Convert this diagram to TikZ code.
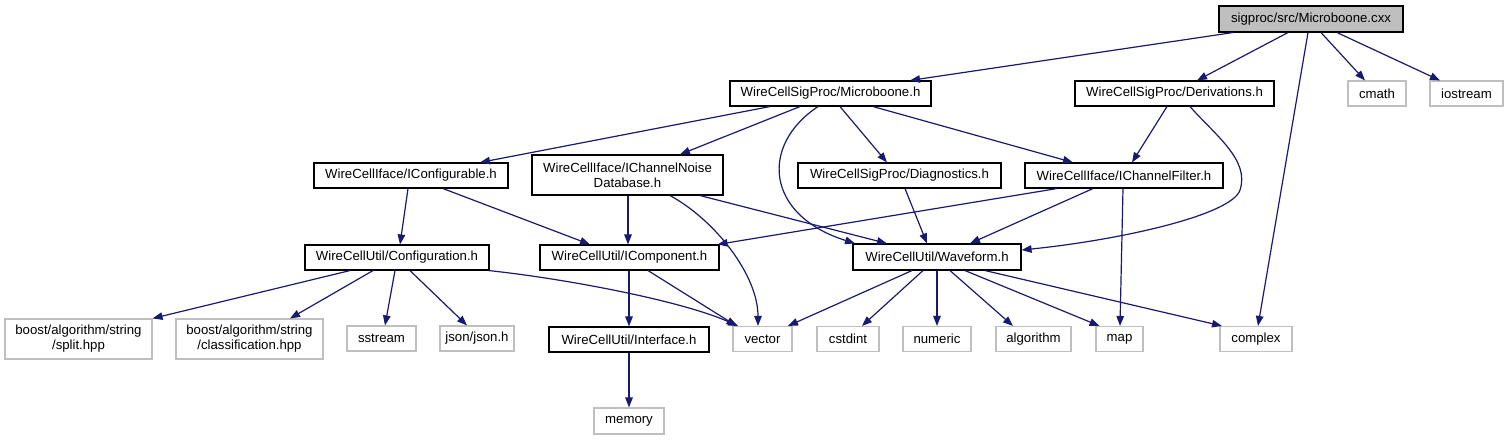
\documentclass[tikz,border=0pt]{standalone}
\usepackage{fontspec}
\setmainfont{Liberation Sans}
\usetikzlibrary{arrows.meta}
\definecolor{edgeblue}{HTML}{191970}
\definecolor{extgray}{HTML}{BFBFBF}
\begin{document}
\begin{tikzpicture}[x=1pt,y=-1pt,
  box/.style={draw=black,line width=1.1pt,rectangle,inner sep=0pt,align=center,
    font=\fontsize{13.2}{15}\selectfont,fill=white},
  ext/.style={box,draw=extgray},
  cur/.style={box,fill=extgray},
  dep/.style={draw=edgeblue,line width=1.2pt,
    -{Triangle[length=10pt,width=7.5pt,fill=edgeblue]}}
]
\useasboundingbox (0,0) rectangle (1508,440);
% nodes
\node[cur,minimum width=184pt,minimum height=26pt] (cxx) at (1311,19) {sigproc/src/Microboone.cxx};
\node[box,minimum width=201pt,minimum height=25pt] (mbh) at (830.5,93.5) {WireCellSigProc/Microboone.h};
\node[box,minimum width=199pt,minimum height=25pt] (der) at (1174.5,93.5) {WireCellSigProc/Derivations.h};
\node[ext,minimum width=58pt,minimum height=25pt] (cmath) at (1377,93.5) {cmath};
\node[ext,minimum width=73pt,minimum height=25pt] (iostream) at (1466.5,93.5) {iostream};
\node[box,minimum width=194pt,minimum height=25pt] (icfg) at (411,175.5) {WireCellIface/IConfigurable.h};
\node[box,minimum width=191pt,minimum height=40pt] (icnd) at (627.5,175) {WireCellIface/IChannelNoise\\Database.h};
\node[box,minimum width=203pt,minimum height=25pt] (diag) at (899.5,175.5) {WireCellSigProc/Diagnostics.h};
\node[box,minimum width=198pt,minimum height=25pt] (icf) at (1124,175.5) {WireCellIface/IChannelFilter.h};
\node[box,minimum width=184pt,minimum height=25pt] (conf) at (397,257.5) {WireCellUtil/Configuration.h};
\node[box,minimum width=179pt,minimum height=25pt] (icomp) at (629.5,257.5) {WireCellUtil/IComponent.h};
\node[box,minimum width=168pt,minimum height=26pt] (wave) at (937,257) {WireCellUtil/Waveform.h};
\node[ext,minimum width=147pt,minimum height=40pt] (split) at (78.5,339) {boost/algorithm/string\\/split.hpp};
\node[ext,minimum width=147pt,minimum height=40pt] (classif) at (249.5,339) {boost/algorithm/string\\/classification.hpp};
\node[ext,minimum width=69pt,minimum height=25pt] (sstream) at (381.5,338.5) {sstream};
\node[ext,minimum width=74pt,minimum height=25pt] (json) at (477,338.5) {json/json.h};
\node[box,minimum width=160pt,minimum height=25pt] (iface) at (629,339.5) {WireCellUtil/Interface.h};
\node[ext,minimum width=59pt,minimum height=25pt] (vector) at (762.5,339) {vector};
\node[ext,minimum width=62pt,minimum height=25pt] (cstdint) at (848,339) {cstdint};
\node[ext,minimum width=68pt,minimum height=25pt] (numeric) at (937,339) {numeric};
\node[ext,minimum width=75pt,minimum height=25pt] (algorithm) at (1033.5,339) {algorithm};
\node[ext,minimum width=47pt,minimum height=25pt] (map) at (1119.5,339) {map};
\node[ext,minimum width=72pt,minimum height=25pt] (complex) at (1256,339) {complex};
\node[ext,minimum width=70pt,minimum height=26pt] (memory) at (629,421) {memory};
% edges
\draw[dep] ([xshift=-78pt]cxx.south) -- ([xshift=79.5pt]mbh.north);
\draw[dep] ([xshift=-23pt]cxx.south) -- ([xshift=22.5pt]der.north);
\draw[dep] ([xshift=-3pt]cxx.south) -- ([xshift=2pt]complex.north);
\draw[dep] ([xshift=10pt]cxx.south) -- ([xshift=-12pt]cmath.north);
\draw[dep] ([xshift=26pt]cxx.south) -- ([xshift=-26.5pt]iostream.north);
\draw[dep] ([xshift=-60.5pt]mbh.south) -- ([xshift=69pt]icfg.north);
\draw[dep] ([xshift=-30.5pt]mbh.south) -- ([xshift=52.5pt]icnd.north);
\draw[dep] ([xshift=-12.5pt]mbh.south) .. controls (760,145) and (765,215) .. ([xshift=-82pt]wave.north);
\draw[dep] ([xshift=9.5pt]mbh.south) -- ([xshift=-12.5pt]diag.north);
\draw[dep] ([xshift=42.5pt]mbh.south) -- ([xshift=-51pt]icf.north);
\draw[dep] ([xshift=-7.5pt]der.south) -- ([xshift=8pt]icf.north);
\draw[dep] ([xshift=15.5pt]der.south) .. controls (1215,135) and (1250,160) .. (1240,190)
  .. controls (1232,215) and (1120,240) .. ([yshift=7pt]wave.east);
\draw[dep] ([xshift=-3pt]icfg.south) -- ([xshift=3pt]conf.north);
\draw[dep] ([xshift=32pt]icfg.south) -- ([xshift=-39.5pt]icomp.north);
\draw[dep] ([xshift=0.5pt]icnd.south) -- ([xshift=-1.5pt]icomp.north);
\draw[dep] ([xshift=42.5pt]icnd.south) .. controls (715,220) and (758,275) .. ([xshift=-4.5pt]vector.north);
\draw[dep] ([xshift=72.5pt]icnd.south) -- ([xshift=-50pt]wave.north);
\draw[dep] ([xshift=5.5pt]diag.south) -- ([xshift=-10pt]wave.north);
\draw[dep] ([xshift=-67pt]icf.south) -- ([xshift=-2pt]icomp.north east);
\draw[dep] ([xshift=-31pt]icf.south) -- ([xshift=33pt]wave.north);
\draw[dep] ([xshift=-1pt]icf.south) -- ([xshift=0.5pt]map.north);
\draw[dep] ([xshift=-47pt]conf.south) -- ([xshift=0pt]split.north east);
\draw[dep] ([xshift=-24pt]conf.south) -- ([xshift=40.5pt]classif.north);
\draw[dep] ([xshift=-2pt]conf.south) -- ([xshift=3.5pt]sstream.north);
\draw[dep] ([xshift=13pt]conf.south) -- ([xshift=-10pt]json.north);
\draw[dep] ([xshift=-1pt]conf.south east) .. controls (560,278) and (680,300) .. ([xshift=-24.5pt]vector.north);
\draw[dep] ([xshift=-0.5pt]icomp.south) -- (iface.north);
\draw[dep] ([xshift=18.5pt]icomp.south) -- ([xshift=-26pt]vector.north);
\draw[dep] (iface.south) -- (memory.north);
\draw[dep] ([xshift=-25pt]wave.south) -- ([xshift=25.5pt]vector.north);
\draw[dep] ([xshift=-14pt]wave.south) -- ([xshift=14pt]cstdint.north);
\draw[dep] (wave.south) -- (numeric.north);
\draw[dep] ([xshift=13pt]wave.south) -- ([xshift=-20.5pt]algorithm.north);
\draw[dep] ([xshift=28pt]wave.south) -- ([xshift=-20pt]map.north);
\draw[dep] ([xshift=48pt]wave.south) -- ([xshift=-34pt]complex.north);
\end{tikzpicture}
\end{document}
